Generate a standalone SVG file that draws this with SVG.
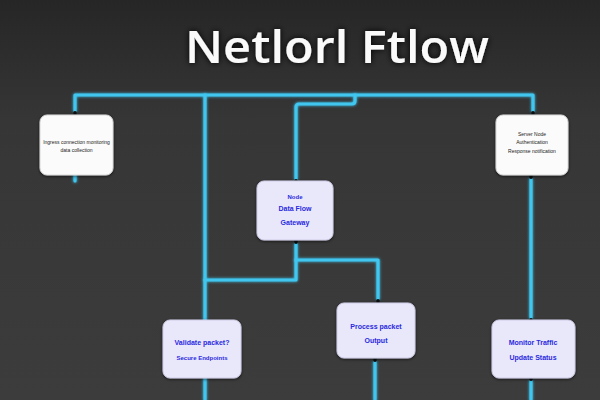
<svg xmlns="http://www.w3.org/2000/svg" width="600" height="400" viewBox="0 0 600 400">
<defs>
<linearGradient id="bg" x1="0" y1="0" x2="0" y2="1">
<stop offset="0" stop-color="#262626"/>
<stop offset="0.3" stop-color="#363636"/>
<stop offset="1" stop-color="#3c3c3c"/>
</linearGradient>
<filter id="glow" filterUnits="userSpaceOnUse" x="0" y="0" width="600" height="400">
<feGaussianBlur stdDeviation="1.6" result="b"/>
<feMerge><feMergeNode in="b"/><feMergeNode in="SourceGraphic"/></feMerge>
</filter>
<filter id="tglow" filterUnits="userSpaceOnUse" x="0" y="0" width="600" height="120">
<feGaussianBlur in="SourceAlpha" stdDeviation="3" result="b"/>
<feFlood flood-color="#000"/>
<feComposite in2="b" operator="in"/>
<feMerge><feMergeNode/><feMergeNode in="SourceGraphic"/></feMerge>
</filter>
<filter id="shadow" x="-20%" y="-20%" width="140%" height="140%">
<feDropShadow dx="0" dy="1" stdDeviation="1.5" flood-color="#000" flood-opacity="0.6"/>
</filter>
<marker id="dot" markerWidth="4" markerHeight="4" refX="2" refY="2" markerUnits="userSpaceOnUse">
<circle cx="2" cy="2" r="2" fill="#111"/>
</marker>
</defs>
<style>
.wire{fill:none;stroke:#3fc6ef;stroke-width:3.2;stroke-linejoin:round;stroke-linecap:round;filter:url(#glow)}
.wh{fill:#fbfbfb;stroke:#d8d8d8;stroke-width:1;filter:url(#shadow)}
.lv{fill:#e9e7fa;stroke:#cfcde6;stroke-width:1;filter:url(#shadow)}
.t1{font-family:"Liberation Sans",Arial,sans-serif;font-size:5px;fill:#222;text-anchor:middle}
.t2{font-family:"Liberation Sans",Arial,sans-serif;font-size:7px;font-weight:bold;fill:#2a2ae0;text-anchor:middle}
.title{font-family:"Open Sans","DejaVu Sans",sans-serif;font-size:46px;font-weight:600;fill:#fafafa;text-anchor:middle}
</style>
<rect width="600" height="400" fill="url(#bg)"/>
<text class="title" x="337" y="63" filter="url(#tglow)" textLength="304" lengthAdjust="spacingAndGlyphs">Netlorl Ftlow</text>
<g id="connectors">
<path class="wire" d="M75 113 V95 H533 V113" marker-start="url(#dot)" marker-end="url(#dot)"/>
<path class="wire" d="M355 95 V101 Q355 104 352 104 H299 Q296 104 296 107 V181" marker-end="url(#dot)"/>
<path class="wire" d="M205 95 V400"/>
<path class="wire" d="M205 280 H296 V242" marker-end="url(#dot)"/>
<path class="wire" d="M296 260 H378 V301" marker-end="url(#dot)"/>
<path class="wire" d="M531 177 V320" marker-start="url(#dot)" marker-end="url(#dot)"/>
<path class="wire" d="M75 175 V181"/>
<path class="wire" d="M375 360 V400" marker-start="url(#dot)"/>
<path class="wire" d="M531 379 V400" marker-start="url(#dot)"/>
</g>
<g id="n-topleft">
<rect class="wh" x="40" y="115" width="73" height="60" rx="7"/>
<text class="t1" x="76.5" y="144">Ingress connection monitoring</text>
<text class="t1" x="76.5" y="152">data collection</text>
</g>
<g id="n-topright">
<rect class="wh" x="496" y="115" width="72" height="60" rx="7"/>
<text class="t1" x="532" y="136">Server Node</text>
<text class="t1" x="532" y="144">Authentication</text>
<text class="t1" x="532" y="153">Response notification</text>
</g>
<g id="n-center">
<rect class="lv" x="257" y="181" width="76" height="59" rx="7"/>
<text class="t2" x="295" y="199" style="font-size:6px">Node</text>
<text class="t2" x="295" y="211">Data Flow</text>
<text class="t2" x="295" y="225">Gateway</text>
</g>
<g id="n-botleft">
<rect class="lv" x="163" y="320" width="78" height="58" rx="7"/>
<text class="t2" x="202" y="345">Validate packet?</text>
<text class="t2" x="202" y="360" style="font-size:6px">Secure Endpoints</text>
</g>
<g id="n-botmid">
<rect class="lv" x="337" y="303" width="78" height="55" rx="7"/>
<text class="t2" x="376" y="329">Process packet</text>
<text class="t2" x="376" y="343">Output</text>
</g>
<g id="n-botright">
<rect class="lv" x="492" y="320" width="83" height="58" rx="7"/>
<text class="t2" x="533" y="345">Monitor Traffic</text>
<text class="t2" x="533" y="360">Update Status</text>
</g>
</svg>
